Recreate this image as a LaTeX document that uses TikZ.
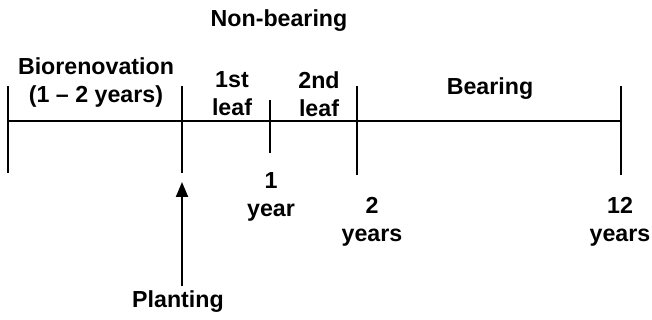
\documentclass[tikz,border=0pt]{standalone}
\usepackage{fontspec}
\setmainfont{Liberation Sans}
\usetikzlibrary{arrows.meta}
\begin{document}
\begin{tikzpicture}[x=0.5pt,y=-0.5pt,
  lbl/.style={font=\fontsize{11.6}{13}\selectfont\bfseries, align=center, inner sep=0pt},
  ln/.style={line width=0.9pt, black},
  arr/.style={line width=1pt, -{Triangle[length=7.5pt,width=6pt]}}]
\useasboundingbox (0,0) rectangle (652,320);
% tick coordinates
\coordinate (t0a) at (8,86);   \coordinate (t0b) at (8,173);
\coordinate (t1a) at (182,86); \coordinate (t1b) at (182,173);
\coordinate (t2a) at (270,100);\coordinate (t2b) at (270,153);
\coordinate (t3a) at (357,86); \coordinate (t3b) at (357,175);
\coordinate (t4a) at (621,86); \coordinate (t4b) at (621,175);
\coordinate (ls) at (8,121); \coordinate (le) at (621,121);
\draw[ln] (ls) -- (le);
\draw[ln] (t0a) -- (t0b);
\draw[ln] (t1a) -- (t1b);
\draw[ln] (t2a) -- (t2b);
\draw[ln] (t3a) -- (t3b);
\draw[ln] (t4a) -- (t4b);
% labels
\node[lbl] (nb) at (279,21) {Non-bearing};
\node[lbl] (bio) at (96,83) {Biorenovation\\[1pt](1 -- 2 years)};
\node[lbl] (l1) at (232,94) {1st\\[1pt]leaf};
\node[lbl] (l2) at (319,94) {2nd\\[1pt]leaf};
\node[lbl] (bear) at (490,89) {Bearing};
\node[lbl] (y1) at (271,197) {1\\[1pt]year};
\node[lbl] (y2) at (372,222) {2\\[1pt]years};
\node[lbl] (y12) at (620,222) {12\\[1pt]years};
\node[lbl] (plant) at (178,302) {Planting};
\coordinate (atip) at (182,182);
\coordinate (abase) at (182,286);
\draw[arr] (abase) -- (atip);
\end{tikzpicture}
\end{document}
